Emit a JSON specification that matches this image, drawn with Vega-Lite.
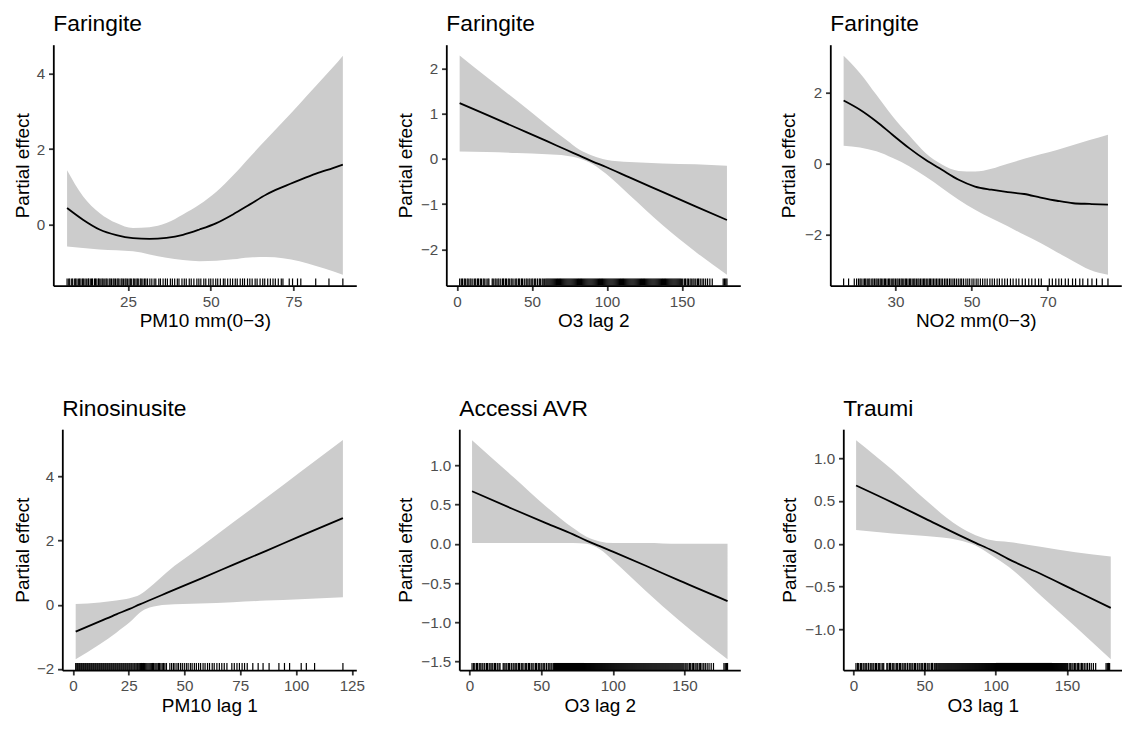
{
"$schema": "https://vega.github.io/schema/vega-lite/v6.json",
"padding": {"left": 13.3, "top": 12.7, "right": 0, "bottom": 0},
"config": {
  "font": "Liberation Sans",
  "view": {"stroke": null},
  "axis": {"grid": false, "domainColor": "#000000", "domainWidth": 1.8, "tickColor": "#333333", "tickWidth": 1.8, "tickSize": 4.75, "labelColor": "#4D4D4D", "labelFontSize": 15.2, "labelPadding": 3.8, "titleFontSize": 19, "titleColor": "#000000", "titleFontWeight": "normal", "labelFlush": false, "labelOverlap": false},
  "axisX": {"titleBaseline": "alphabetic", "titleY": 41.3},
  "axisY": {"titleBaseline": "alphabetic", "titleAngle": 270, "titleAlign": "center", "titleY": 120.5},
  "title": {"fontSize": 22.8, "fontWeight": "normal", "color": "#000000", "anchor": "start", "frame": "group", "baseline": "alphabetic", "offset": 8.6}
},
"datasets": {
  "p1": [
    {"x":6.6,"fit":0.44,"lo":-0.58,"hi":1.44},
    {"x":11.4,"fit":0.13,"lo":-0.62,"hi":0.75},
    {"x":16.4,"fit":-0.13,"lo":-0.66,"hi":0.31},
    {"x":21.5,"fit":-0.28,"lo":-0.68,"hi":0.04},
    {"x":26.5,"fit":-0.36,"lo":-0.71,"hi":-0.09},
    {"x":31.5,"fit":-0.38,"lo":-0.79,"hi":-0.07},
    {"x":36.6,"fit":-0.35,"lo":-0.88,"hi":0.04},
    {"x":41.6,"fit":-0.27,"lo":-0.94,"hi":0.27},
    {"x":46.6,"fit":-0.13,"lo":-0.97,"hi":0.53},
    {"x":51.7,"fit":0.04,"lo":-0.96,"hi":0.87},
    {"x":56.7,"fit":0.27,"lo":-0.92,"hi":1.30},
    {"x":61.7,"fit":0.53,"lo":-0.87,"hi":1.78},
    {"x":66.8,"fit":0.80,"lo":-0.86,"hi":2.26},
    {"x":71.8,"fit":1.00,"lo":-0.89,"hi":2.73},
    {"x":76.8,"fit":1.18,"lo":-0.97,"hi":3.20},
    {"x":81.8,"fit":1.35,"lo":-1.10,"hi":3.68},
    {"x":86.9,"fit":1.50,"lo":-1.24,"hi":4.17},
    {"x":89.9,"fit":1.59,"lo":-1.33,"hi":4.48}
  ],
  "p2": [
    {"x":1.8,"fit":1.23,"lo":0.16,"hi":2.28},
    {"x":20,"fit":0.97,"lo":0.15,"hi":1.80},
    {"x":40,"fit":0.68,"lo":0.13,"hi":1.28},
    {"x":60,"fit":0.39,"lo":0.10,"hi":0.75},
    {"x":72.8,"fit":0.20,"lo":0.07,"hi":0.42},
    {"x":81.7,"fit":0.07,"lo":0.01,"hi":0.20},
    {"x":90.5,"fit":-0.06,"lo":-0.12,"hi":0.07},
    {"x":99.4,"fit":-0.18,"lo":-0.33,"hi":-0.02},
    {"x":115,"fit":-0.41,"lo":-0.80,"hi":-0.07},
    {"x":137,"fit":-0.73,"lo":-1.46,"hi":-0.10},
    {"x":159,"fit":-1.05,"lo":-2.05,"hi":-0.12},
    {"x":180,"fit":-1.35,"lo":-2.56,"hi":-0.15}
  ],
  "p3": [
    {"x":16.4,"fit":1.78,"lo":0.51,"hi":3.04},
    {"x":20.7,"fit":1.52,"lo":0.46,"hi":2.55},
    {"x":25.0,"fit":1.19,"lo":0.35,"hi":1.94},
    {"x":29.3,"fit":0.81,"lo":0.16,"hi":1.33},
    {"x":33.6,"fit":0.44,"lo":-0.07,"hi":0.80},
    {"x":37.9,"fit":0.11,"lo":-0.36,"hi":0.30},
    {"x":42.2,"fit":-0.17,"lo":-0.68,"hi":-0.02},
    {"x":46.6,"fit":-0.45,"lo":-1.01,"hi":-0.20},
    {"x":50.9,"fit":-0.64,"lo":-1.29,"hi":-0.22},
    {"x":55.2,"fit":-0.73,"lo":-1.53,"hi":-0.14},
    {"x":59.5,"fit":-0.80,"lo":-1.76,"hi":0.00},
    {"x":63.8,"fit":-0.85,"lo":-2.00,"hi":0.14},
    {"x":68.1,"fit":-0.95,"lo":-2.23,"hi":0.27},
    {"x":72.4,"fit":-1.04,"lo":-2.49,"hi":0.39},
    {"x":76.7,"fit":-1.11,"lo":-2.74,"hi":0.53},
    {"x":81.0,"fit":-1.13,"lo":-2.98,"hi":0.67},
    {"x":85.8,"fit":-1.15,"lo":-3.12,"hi":0.82}
  ],
  "p4": [
    {"x":1.2,"fit":-0.84,"lo":-1.70,"hi":0.02},
    {"x":12,"fit":-0.52,"lo":-1.23,"hi":0.07},
    {"x":19.4,"fit":-0.30,"lo":-0.87,"hi":0.13},
    {"x":25.4,"fit":-0.13,"lo":-0.55,"hi":0.20},
    {"x":29.9,"fit":0.01,"lo":-0.25,"hi":0.31},
    {"x":34.3,"fit":0.14,"lo":-0.09,"hi":0.54},
    {"x":41.8,"fit":0.36,"lo":0.00,"hi":1.00},
    {"x":56.8,"fit":0.80,"lo":0.04,"hi":1.78},
    {"x":71.7,"fit":1.24,"lo":0.08,"hi":2.56},
    {"x":86.6,"fit":1.68,"lo":0.13,"hi":3.33},
    {"x":101.6,"fit":2.13,"lo":0.17,"hi":4.12},
    {"x":121,"fit":2.70,"lo":0.23,"hi":5.13}
  ],
  "p5": [
    {"x":1.8,"fit":0.67,"lo":0.01,"hi":1.32},
    {"x":30.6,"fit":0.44,"lo":0.01,"hi":0.85},
    {"x":53.8,"fit":0.26,"lo":0.01,"hi":0.47},
    {"x":72.3,"fit":0.12,"lo":0.01,"hi":0.20},
    {"x":81.6,"fit":0.04,"lo":0.00,"hi":0.09},
    {"x":90.9,"fit":-0.03,"lo":-0.07,"hi":0.03},
    {"x":100,"fit":-0.10,"lo":-0.21,"hi":0.01},
    {"x":123,"fit":-0.28,"lo":-0.60,"hi":0.01},
    {"x":146.5,"fit":-0.47,"lo":-0.98,"hi":0.00},
    {"x":180,"fit":-0.73,"lo":-1.47,"hi":0.00}
  ],
  "p6": [
    {"x":1.9,"fit":0.68,"lo":0.16,"hi":1.21},
    {"x":27.5,"fit":0.48,"lo":0.12,"hi":0.86},
    {"x":50.8,"fit":0.29,"lo":0.09,"hi":0.51},
    {"x":74.2,"fit":0.10,"lo":0.04,"hi":0.20},
    {"x":85.8,"fit":0.01,"lo":-0.02,"hi":0.10},
    {"x":97.5,"fit":-0.08,"lo":-0.14,"hi":0.04},
    {"x":109,"fit":-0.18,"lo":-0.27,"hi":0.02},
    {"x":132.5,"fit":-0.36,"lo":-0.62,"hi":-0.04},
    {"x":156,"fit":-0.55,"lo":-0.97,"hi":-0.10},
    {"x":180.8,"fit":-0.75,"lo":-1.35,"hi":-0.15}
  ],
  "r1": [
    {"x":6.6},{"x":7.1},{"x":7.4},{"x":8.0},{"x":8.3},{"x":8.9},{"x":9.2},{"x":9.6},{"x":10.1},{"x":10.4},{"x":10.8},{"x":11.3},{"x":11.5},{"x":12.0},{"x":12.4},{"x":12.9},{"x":13.1},{"x":13.6},{"x":14.0},{"x":14.3},{"x":14.9},{"x":15.2},{"x":15.6},{"x":16.1},{"x":16.3},{"x":16.8},{"x":17.2},{"x":17.5},{"x":18.0},{"x":18.4},{"x":18.7},{"x":19.3},{"x":19.6},{"x":20.0},{"x":20.5},{"x":20.8},{"x":21.2},{"x":21.7},{"x":22.0},{"x":22.3},{"x":22.9},{"x":23.2},{"x":23.6},{"x":24.1},{"x":24.4},{"x":24.8},{"x":25.3},{"x":25.7},{"x":26.0},{"x":26.6},{"x":26.9},{"x":27.4},{"x":27.8},{"x":28.1},{"x":28.7},{"x":29.0},{"x":29.5},{"x":30.0},{"x":30.4},{"x":30.9},{"x":31.6},{"x":32.2},{"x":32.9},{"x":33.4},{"x":34.3},{"x":34.8},{"x":35.6},{"x":36.3},{"x":36.9},{"x":37.8},{"x":38.4},{"x":39.1},{"x":39.9},{"x":40.4},{"x":41.3},{"x":42.0},{"x":42.6},{"x":43.5},{"x":44.1},{"x":44.9},{"x":45.8},{"x":46.4},{"x":47.0},{"x":47.9},{"x":48.5},{"x":49.4},{"x":50.0},{"x":50.7},{"x":51.5},{"x":52.1},{"x":52.9},{"x":53.8},{"x":54.3},{"x":55.1},{"x":55.9},{"x":56.6},{"x":57.4},{"x":58.0},{"x":58.9},{"x":59.6},{"x":60.2},{"x":61.1},{"x":61.8},{"x":62.5},{"x":63.4},{"x":64.0},{"x":64.9},{"x":65.7},{"x":66.3},{"x":67.2},{"x":68.0},{"x":68.8},{"x":69.5},{"x":70.4},{"x":71.3},{"x":71.8},{"x":73.7},{"x":74.7},{"x":76.2},{"x":77.2},{"x":81.7},{"x":85.7},{"x":89.9}
  ],
  "r3": [
    {"x":16.4},{"x":17.7},{"x":19.2},{"x":19.8},{"x":20.3},{"x":20.7},{"x":21.0},{"x":21.5},{"x":21.9},{"x":22.2},{"x":22.6},{"x":23.0},{"x":23.3},{"x":23.8},{"x":24.1},{"x":24.5},{"x":24.9},{"x":25.2},{"x":25.6},{"x":26.0},{"x":26.3},{"x":26.7},{"x":27.1},{"x":27.4},{"x":27.8},{"x":28.2},{"x":28.5},{"x":28.9},{"x":29.3},{"x":29.6},{"x":30.0},{"x":30.4},{"x":30.7},{"x":31.1},{"x":31.5},{"x":31.8},{"x":32.2},{"x":32.6},{"x":32.9},{"x":33.3},{"x":33.7},{"x":34.0},{"x":34.4},{"x":34.8},{"x":35.1},{"x":35.5},{"x":35.9},{"x":36.2},{"x":36.6},{"x":37.0},{"x":37.4},{"x":37.7},{"x":38.1},{"x":38.5},{"x":38.9},{"x":39.2},{"x":39.6},{"x":40.0},{"x":40.4},{"x":40.8},{"x":41.2},{"x":41.6},{"x":42.0},{"x":42.4},{"x":42.9},{"x":43.3},{"x":43.7},{"x":44.2},{"x":44.6},{"x":45.1},{"x":45.5},{"x":46.0},{"x":46.5},{"x":47.0},{"x":47.4},{"x":47.9},{"x":48.5},{"x":49.0},{"x":49.5},{"x":50.1},{"x":50.6},{"x":51.2},{"x":51.7},{"x":52.3},{"x":52.9},{"x":53.5},{"x":54.1},{"x":54.8},{"x":55.4},{"x":56.0},{"x":56.7},{"x":57.3},{"x":58.0},{"x":58.7},{"x":59.4},{"x":60.2},{"x":60.9},{"x":61.7},{"x":62.4},{"x":63.3},{"x":64.1},{"x":65.0},{"x":65.8},{"x":66.7},{"x":67.6},{"x":68.3},{"x":70.4},{"x":71.2},{"x":72.1},{"x":72.9},{"x":73.6},{"x":74.6},{"x":75.4},{"x":76.5},{"x":77.3},{"x":78.4},{"x":79.2},{"x":80.5},{"x":81.6},{"x":82.8},{"x":84.3},{"x":85.8}
  ],
  "r4": [
    {"x":1.2},{"x":1.7},{"x":2.1},{"x":2.6},{"x":3.0},{"x":3.5},{"x":3.9},{"x":4.4},{"x":4.8},{"x":5.3},{"x":5.7},{"x":6.2},{"x":6.6},{"x":7.1},{"x":7.5},{"x":8.0},{"x":8.4},{"x":8.9},{"x":9.3},{"x":9.8},{"x":10.2},{"x":10.7},{"x":11.1},{"x":11.6},{"x":12.0},{"x":12.5},{"x":12.9},{"x":13.4},{"x":13.8},{"x":14.3},{"x":14.7},{"x":15.2},{"x":15.6},{"x":16.1},{"x":16.5},{"x":17.0},{"x":17.4},{"x":17.9},{"x":18.3},{"x":18.8},{"x":19.2},{"x":19.7},{"x":20.1},{"x":20.6},{"x":21.0},{"x":21.5},{"x":21.9},{"x":22.4},{"x":22.8},{"x":23.3},{"x":23.7},{"x":24.2},{"x":24.6},{"x":25.1},{"x":25.5},{"x":26.0},{"x":26.4},{"x":26.9},{"x":27.4},{"x":27.8},{"x":28.3},{"x":28.8},{"x":29.2},{"x":29.7},{"x":30.2},{"x":30.7},{"x":31.1},{"x":31.6},{"x":32.1},{"x":32.6},{"x":33.1},{"x":33.6},{"x":34.1},{"x":34.6},{"x":35.1},{"x":35.6},{"x":36.1},{"x":36.7},{"x":37.2},{"x":37.7},{"x":38.3},{"x":38.8},{"x":39.4},{"x":40.0},{"x":40.6},{"x":41.2},{"x":41.9},{"x":43.4},{"x":44.2},{"x":45.0},{"x":45.7},{"x":46.6},{"x":47.3},{"x":48.2},{"x":49.0},{"x":49.9},{"x":50.8},{"x":51.6},{"x":52.6},{"x":53.4},{"x":54.4},{"x":55.3},{"x":56.3},{"x":57.2},{"x":58.3},{"x":59.2},{"x":60.3},{"x":61.2},{"x":62.4},{"x":63.3},{"x":64.5},{"x":65.6},{"x":66.7},{"x":67.8},{"x":69.0},{"x":71.2},{"x":72.3},{"x":73.5},{"x":74.6},{"x":75.8},{"x":76.9},{"x":78.1},{"x":80.6},{"x":83.0},{"x":85.2},{"x":87.9},{"x":92.3},{"x":94.8},{"x":97.1},{"x":102.3},{"x":104.6},{"x":108.3},{"x":121.0}
  ],
  "ro3": [
    {"x":1.8},{"x":2.9},{"x":3.7},{"x":4.9},{"x":5.6},{"x":6.8},{"x":7.5},{"x":8.7},{"x":9.4},{"x":10.6},{"x":11.8},{"x":12.5},{"x":13.7},{"x":14.4},{"x":15.6},{"x":16.3},{"x":17.5},{"x":18.2},{"x":19.4},{"x":20.6},{"x":21.3},{"x":23.5},{"x":24.2},{"x":25.4},{"x":26.1},{"x":27.3},{"x":28.0},{"x":29.2},{"x":30.4},{"x":31.1},{"x":32.3},{"x":33.0},{"x":34.2},{"x":34.9},{"x":36.1},{"x":36.8},{"x":38.0},{"x":39.2},{"x":39.9},{"x":41.1},{"x":41.8},{"x":43.0},{"x":43.7},{"x":44.9},{"x":46.1},{"x":46.8},{"x":48.0},{"x":48.7},{"x":49.9},{"x":50.6},{"x":51.8},{"x":52.5},{"x":53.7},{"x":54.9},{"x":55.6},{"x":56.8},{"x":57.5},{"x":58.5},{"x":59.3},{"x":60.0},{"x":60.7},{"x":61.4},{"x":62.1},{"x":62.8},{"x":63.5},{"x":64.2},{"x":64.9},{"x":65.6},{"x":66.3},{"x":67.0},{"x":67.7},{"x":68.4},{"x":69.1},{"x":69.8},{"x":70.5},{"x":71.2},{"x":71.9},{"x":72.6},{"x":73.3},{"x":74.0},{"x":74.7},{"x":75.4},{"x":76.1},{"x":76.8},{"x":77.5},{"x":78.2},{"x":78.9},{"x":79.6},{"x":80.3},{"x":81.0},{"x":81.7},{"x":82.4},{"x":83.1},{"x":83.8},{"x":84.5},{"x":85.2},{"x":85.9},{"x":86.6},{"x":87.3},{"x":88.0},{"x":88.7},{"x":89.4},{"x":90.1},{"x":90.8},{"x":91.5},{"x":92.2},{"x":92.9},{"x":93.6},{"x":94.3},{"x":95.0},{"x":95.7},{"x":96.4},{"x":97.1},{"x":97.8},{"x":98.5},{"x":99.2},{"x":99.9},{"x":100.6},{"x":101.3},{"x":102.0},{"x":102.7},{"x":103.4},{"x":104.1},{"x":104.8},{"x":105.5},{"x":106.2},{"x":106.9},{"x":107.6},{"x":108.3},{"x":109.0},{"x":109.7},{"x":110.4},{"x":111.1},{"x":111.8},{"x":112.5},{"x":113.2},{"x":113.9},{"x":114.6},{"x":115.3},{"x":116.0},{"x":116.7},{"x":117.4},{"x":118.1},{"x":118.8},{"x":119.5},{"x":120.2},{"x":120.9},{"x":121.6},{"x":122.3},{"x":123.0},{"x":123.7},{"x":124.4},{"x":125.1},{"x":125.8},{"x":126.5},{"x":127.2},{"x":127.9},{"x":128.6},{"x":129.3},{"x":130.0},{"x":130.7},{"x":131.4},{"x":132.1},{"x":132.8},{"x":133.5},{"x":134.2},{"x":134.9},{"x":135.6},{"x":136.3},{"x":137.0},{"x":137.7},{"x":138.4},{"x":139.1},{"x":139.8},{"x":140.5},{"x":141.2},{"x":141.9},{"x":142.6},{"x":143.3},{"x":144.0},{"x":144.7},{"x":145.4},{"x":146.1},{"x":146.8},{"x":147.5},{"x":148.2},{"x":148.9},{"x":149.6},{"x":150.5},{"x":151.6},{"x":152.4},{"x":153.5},{"x":154.3},{"x":155.4},{"x":156.2},{"x":157.3},{"x":158.1},{"x":159.2},{"x":160.3},{"x":161.1},{"x":162.2},{"x":163.4},{"x":164.5},{"x":165.8},{"x":167.1},{"x":168.6},{"x":170.2},{"x":177.5},{"x":178.4},{"x":179.2},{"x":180.0}
  ]
},
"columns": 1,
"align": "none",
"spacing": 65.5,
"concat": [
  {"bounds": "flush", "spacing": 90, "hconcat": [
    {"width": 303, "height": 241, "title": "Faringite",
     "encoding": {"x": {"field": "x", "type": "quantitative", "scale": {"domain": [2.44, 93.96], "nice": false, "zero": false}, "axis": {"values": [25, 50, 75], "title": "PM10 mm(0−3)"}}},
     "layer": [
       {"data": {"name": "p1"}, "mark": {"type": "area", "color": "#CCCCCC", "interpolate": "monotone"},
        "encoding": {"y": {"field": "lo", "type": "quantitative", "scale": {"domain": [-1.62, 4.77], "nice": false, "zero": false}, "axis": {"values": [0, 2, 4], "title": "Partial effect", "titleX": -25}}, "y2": {"field": "hi"}}},
       {"data": {"name": "p1"}, "mark": {"type": "line", "color": "#000000", "strokeWidth": 1.8, "interpolate": "monotone"},
        "encoding": {"y": {"field": "fit", "type": "quantitative", "scale": {"domain": [-1.62, 4.77], "nice": false, "zero": false}, "axis": {"values": [0, 2, 4], "title": "Partial effect", "titleX": -25}}}},
       {"data": {"name": "r1"}, "mark": {"type": "rule", "color": "#000000", "strokeWidth": 1.2},
        "encoding": {"y": {"datum": -1.62, "type": "quantitative", "scale": {"domain": [-1.62, 4.77], "nice": false, "zero": false}, "axis": {"values": [0, 2, 4], "title": "Partial effect", "titleX": -25}}, "y2": {"datum": -1.428}}}
     ]},
    {"width": 294, "height": 241, "title": "Faringite",
     "encoding": {"x": {"field": "x", "type": "quantitative", "scale": {"domain": [-7.1, 188.9], "nice": false, "zero": false}, "axis": {"values": [0, 50, 100, 150], "title": "O3 lag 2"}}},
     "layer": [
       {"data": {"name": "p2"}, "mark": {"type": "area", "color": "#CCCCCC", "interpolate": "monotone"},
        "encoding": {"y": {"field": "lo", "type": "quantitative", "scale": {"domain": [-2.80, 2.52], "nice": false, "zero": false}, "axis": {"values": [-2, -1, 0, 1, 2], "title": "Partial effect", "titleX": -35}}, "y2": {"field": "hi"}}},
       {"data": {"name": "p2"}, "mark": {"type": "line", "color": "#000000", "strokeWidth": 1.8, "interpolate": "monotone"},
        "encoding": {"y": {"field": "fit", "type": "quantitative", "scale": {"domain": [-2.80, 2.52], "nice": false, "zero": false}, "axis": {"values": [-2, -1, 0, 1, 2], "title": "Partial effect", "titleX": -35}}}},
       {"data": {"name": "ro3"}, "mark": {"type": "rule", "color": "#000000", "strokeWidth": 1.2},
        "encoding": {"y": {"datum": -2.80, "type": "quantitative", "scale": {"domain": [-2.80, 2.52], "nice": false, "zero": false}, "axis": {"values": [-2, -1, 0, 1, 2], "title": "Partial effect", "titleX": -35}}, "y2": {"datum": -2.64}}}
     ]},
    {"width": 291, "height": 241, "title": "Faringite",
     "encoding": {"x": {"field": "x", "type": "quantitative", "scale": {"domain": [12.9, 89.3], "nice": false, "zero": false}, "axis": {"values": [30, 50, 70], "title": "NO2 mm(0−3)"}}},
     "layer": [
       {"data": {"name": "p3"}, "mark": {"type": "area", "color": "#CCCCCC", "interpolate": "monotone"},
        "encoding": {"y": {"field": "lo", "type": "quantitative", "scale": {"domain": [-3.43, 3.35], "nice": false, "zero": false}, "axis": {"values": [-2, 0, 2], "title": "Partial effect", "titleX": -35.5}}, "y2": {"field": "hi"}}},
       {"data": {"name": "p3"}, "mark": {"type": "line", "color": "#000000", "strokeWidth": 1.8, "interpolate": "monotone"},
        "encoding": {"y": {"field": "fit", "type": "quantitative", "scale": {"domain": [-3.43, 3.35], "nice": false, "zero": false}, "axis": {"values": [-2, 0, 2], "title": "Partial effect", "titleX": -35.5}}}},
       {"data": {"name": "r3"}, "mark": {"type": "rule", "color": "#000000", "strokeWidth": 1.2},
        "encoding": {"y": {"datum": -3.43, "type": "quantitative", "scale": {"domain": [-3.43, 3.35], "nice": false, "zero": false}, "axis": {"values": [-2, 0, 2], "title": "Partial effect", "titleX": -35.5}}, "y2": {"datum": -3.227}}}
     ]}
  ]},
  {"columns": 2, "align": "none", "bounds": "flush", "spacing": 0, "concat": [
    {"width": 9, "height": 1, "data": {"values": []}, "mark": "point"},
    {"bounds": "flush", "spacing": 103, "hconcat": [
    {"width": 294, "height": 241, "title": "Rinosinusite",
     "encoding": {"x": {"field": "x", "type": "quantitative", "scale": {"domain": [-4.8, 127], "nice": false, "zero": false}, "axis": {"values": [0, 25, 50, 75, 100, 125], "title": "PM10 lag 1"}}},
     "layer": [
       {"data": {"name": "p4"}, "mark": {"type": "area", "color": "#CCCCCC", "interpolate": "monotone"},
        "encoding": {"y": {"field": "lo", "type": "quantitative", "scale": {"domain": [-2.04, 5.47], "nice": false, "zero": false}, "axis": {"values": [-2, 0, 2, 4], "title": "Partial effect", "titleX": -34}}, "y2": {"field": "hi"}}},
       {"data": {"name": "p4"}, "mark": {"type": "line", "color": "#000000", "strokeWidth": 1.8, "interpolate": "monotone"},
        "encoding": {"y": {"field": "fit", "type": "quantitative", "scale": {"domain": [-2.04, 5.47], "nice": false, "zero": false}, "axis": {"values": [-2, 0, 2, 4], "title": "Partial effect", "titleX": -34}}}},
       {"data": {"name": "r4"}, "mark": {"type": "rule", "color": "#000000", "strokeWidth": 1.2},
        "encoding": {"y": {"datum": -2.04, "type": "quantitative", "scale": {"domain": [-2.04, 5.47], "nice": false, "zero": false}, "axis": {"values": [-2, 0, 2, 4], "title": "Partial effect", "titleX": -34}}, "y2": {"datum": -1.815}}}
     ]},
    {"width": 281, "height": 241, "title": "Accessi AVR",
     "encoding": {"x": {"field": "x", "type": "quantitative", "scale": {"domain": [-7.1, 188.9], "nice": false, "zero": false}, "axis": {"values": [0, 50, 100, 150], "title": "O3 lag 2"}}},
     "layer": [
       {"data": {"name": "p5"}, "mark": {"type": "area", "color": "#CCCCCC", "interpolate": "monotone"},
        "encoding": {"y": {"field": "lo", "type": "quantitative", "scale": {"domain": [-1.61, 1.46], "nice": false, "zero": false}, "axis": {"values": [-1.5, -1, -0.5, 0, 0.5, 1], "format": ".1f", "title": "Partial effect", "titleX": -48}}, "y2": {"field": "hi"}}},
       {"data": {"name": "p5"}, "mark": {"type": "line", "color": "#000000", "strokeWidth": 1.8, "interpolate": "monotone"},
        "encoding": {"y": {"field": "fit", "type": "quantitative", "scale": {"domain": [-1.61, 1.46], "nice": false, "zero": false}, "axis": {"values": [-1.5, -1, -0.5, 0, 0.5, 1], "format": ".1f", "title": "Partial effect", "titleX": -48}}}},
       {"data": {"name": "ro3"}, "mark": {"type": "rule", "color": "#000000", "strokeWidth": 1.2},
        "encoding": {"y": {"datum": -1.61, "type": "quantitative", "scale": {"domain": [-1.61, 1.46], "nice": false, "zero": false}, "axis": {"values": [-1.5, -1, -0.5, 0, 0.5, 1], "format": ".1f", "title": "Partial effect", "titleX": -48}}, "y2": {"datum": -1.518}}}
     ]},
    {"width": 279, "height": 241, "title": "Traumi",
     "encoding": {"x": {"field": "x", "type": "quantitative", "scale": {"domain": [-7.1, 188.9], "nice": false, "zero": false}, "axis": {"values": [0, 50, 100, 150], "title": "O3 lag 1"}}},
     "layer": [
       {"data": {"name": "p6"}, "mark": {"type": "area", "color": "#CCCCCC", "interpolate": "monotone"},
        "encoding": {"y": {"field": "lo", "type": "quantitative", "scale": {"domain": [-1.478, 1.338], "nice": false, "zero": false}, "axis": {"values": [-1, -0.5, 0, 0.5, 1], "format": ".1f", "title": "Partial effect", "titleX": -48}}, "y2": {"field": "hi"}}},
       {"data": {"name": "p6"}, "mark": {"type": "line", "color": "#000000", "strokeWidth": 1.8, "interpolate": "monotone"},
        "encoding": {"y": {"field": "fit", "type": "quantitative", "scale": {"domain": [-1.478, 1.338], "nice": false, "zero": false}, "axis": {"values": [-1, -0.5, 0, 0.5, 1], "format": ".1f", "title": "Partial effect", "titleX": -48}}}},
       {"data": {"name": "ro3"}, "mark": {"type": "rule", "color": "#000000", "strokeWidth": 1.2},
        "encoding": {"y": {"datum": -1.478, "type": "quantitative", "scale": {"domain": [-1.478, 1.338], "nice": false, "zero": false}, "axis": {"values": [-1, -0.5, 0, 0.5, 1], "format": ".1f", "title": "Partial effect", "titleX": -48}}, "y2": {"datum": -1.393}}}
     ]}
    ]}
  ]}
]
}
